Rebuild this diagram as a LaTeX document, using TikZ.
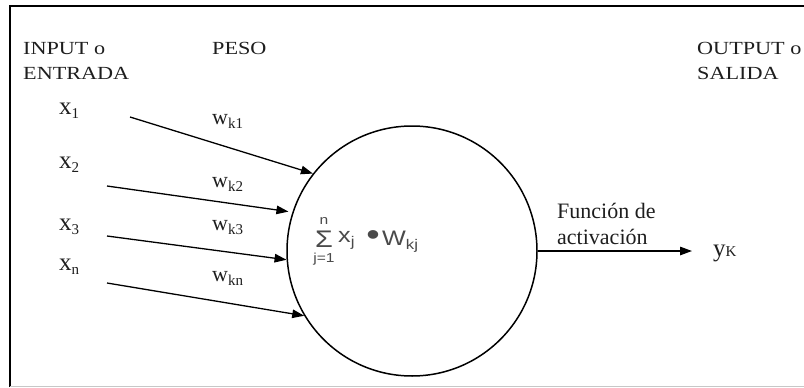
\documentclass[tikz,border=0pt]{standalone}
\usepackage{fontspec}
\setmainfont{Liberation Serif}
\newfontfamily\hdrfont[FakeStretch=1.2]{Liberation Serif}
\newfontfamily\sumfont[FakeStretch=1.2]{Liberation Sans}
\usetikzlibrary{arrows.meta}
\definecolor{ink}{HTML}{1E1E1E}
\definecolor{sumgray}{HTML}{4A4A4A}
\newcommand{\lowsub}[2][15]{\lower4.5pt\hbox{\fontsize{#1}{#1}\selectfont #2}}
\begin{document}
\begin{tikzpicture}[x=1pt,y=-1pt,
  hdrtxt/.style={inner sep=0pt, anchor=base west, text=ink, font=\hdrfont\fontsize{18.5}{18.5}\selectfont},
  vartxt/.style={inner sep=0pt, anchor=base west, text=ink, font=\fontsize{25}{25}\selectfont},
  wtxt/.style={inner sep=0pt, anchor=base west, text=ink, font=\fontsize{22}{22}\selectfont},
  fntxt/.style={inner sep=0pt, anchor=base west, text=ink, font=\fontsize{22}{22}\selectfont},
  sumtxt/.style={inner sep=0pt, anchor=base west, text=sumgray, font=\sumfont\fontsize{21}{21}\selectfont},
  sumsmall/.style={inner sep=0pt, anchor=base, text=sumgray, font=\sumfont\fontsize{13}{13}\selectfont},
  neuronstyle/.style={circle, draw=black, line width=1.5pt, minimum size=250pt, inner sep=0pt},
  arr/.style={draw=black, line width=1.3pt, -{Triangle[length=12pt,width=8.5pt]}}
]
\useasboundingbox (0,0) rectangle (804,388);
% frame
\draw[black, line width=2pt] (10,387) -- (10,6) -- (804,6);
\draw[black!22, line width=1.5pt] (10,386.5) -- (804,386.5);

% headers
\node[hdrtxt] (inA) at (23,54) {INPUT o};
\node[hdrtxt] (inB) at (23,79) {ENTRADA};
\node[hdrtxt] (peso) at (212,54) {PESO};
\node[hdrtxt] (outA) at (697,54) {OUTPUT o};
\node[hdrtxt] (outB) at (697,79) {SALIDA};

% inputs
\node[vartxt] (x1) at (59,114) {x\lowsub{1}};
\node[vartxt] (x2) at (59,168) {x\lowsub{2}};
\node[vartxt] (x3) at (59,230) {x\lowsub{3}};
\node[vartxt] (xn) at (59,270) {x\lowsub{n}};

% weights
\node[wtxt] (w1) at (212,124) {w\lowsub{k1}};
\node[wtxt] (w2) at (212,187) {w\lowsub{k2}};
\node[wtxt] (w3) at (212,230) {w\lowsub{k3}};
\node[wtxt] (wn) at (212,281) {w\lowsub{kn}};

% neuron
\node[neuronstyle] (neuron) at (412,251) {};
\node[sumtxt, font=\sumfont\fontsize{24}{24}\selectfont] (sig) at (315,247) {Σ};
\node[sumsmall] (sumtop) at (324,224) {n};
\node[sumsmall] (sumbot) at (324,262) {j=1};
\node[sumtxt] (sumx) at (338,242) {x\lowsub[14]{j}};
\node[inner sep=0pt, anchor=base, text=sumgray, font=\sumfont\fontsize{32}{32}\selectfont] (dot) at (373,245) {•};
\node[sumtxt] (sumw) at (382,245) {W\lowsub[14]{kj}};

% arrow start points
\coordinate (s1) at (130,117);
\coordinate (s2) at (107,186);
\coordinate (s3) at (107,236);
\coordinate (sn) at (107,283);
\draw[arr] (s1) -- (neuron.142.6);
\draw[arr, shorten >=4pt] (s2) -- (neuron.162.7);
\draw[arr] (s3) -- (neuron.184.6);
\draw[arr] (sn) -- (neuron.211.3);

% output
\coordinate (yend) at (692,251);
\draw[arr] (neuron.east) -- (yend);
\node[fntxt] (fn1) at (557,218) {Función de};
\node[fntxt] (fn2) at (557,244) {activación};
\node[vartxt] (yk) at (713,256) {y\hbox{\fontsize{15}{15}\selectfont K}};
\end{tikzpicture}
\end{document}
